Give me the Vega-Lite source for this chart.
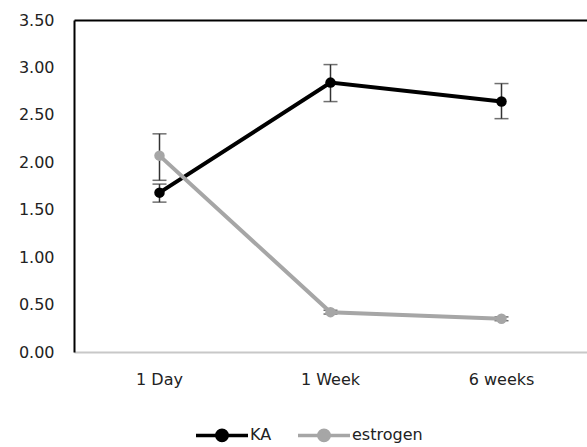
{
  "$schema": "https://vega.github.io/schema/vega-lite/v6.json",
  "width": 513,
  "height": 332,
  "autosize": {"type": "none"},
  "padding": {"left": 74, "top": 20, "right": 0, "bottom": 95},
  "background": "white",
  "config": {"font": "DejaVu Sans", "view": {"stroke": null}},
  "data": {
    "values": [
      {"group": "KA", "time": "1 Day", "mean": 1.68, "lo": 1.58, "hi": 1.77},
      {"group": "KA", "time": "1 Week", "mean": 2.84, "lo": 2.64, "hi": 3.03},
      {"group": "KA", "time": "6 weeks", "mean": 2.64, "lo": 2.46, "hi": 2.83},
      {"group": "estrogen", "time": "1 Day", "mean": 2.07, "lo": 1.81, "hi": 2.3},
      {"group": "estrogen", "time": "1 Week", "mean": 0.42, "lo": 0.4, "hi": 0.44},
      {"group": "estrogen", "time": "6 weeks", "mean": 0.35, "lo": 0.33, "hi": 0.37}
    ]
  },
  "resolve": {"axis": {"x": "independent", "y": "independent"}, "legend": {"color": "independent"}},
  "layer": [
    {
      "mark": {"type": "rule", "color": "#333333", "strokeWidth": 1.5},
      "encoding": {
        "x": {"field": "time", "type": "ordinal", "sort": ["1 Day", "1 Week", "6 weeks"],
              "axis": {"orient": "top", "labels": false, "ticks": false, "title": null, "domainColor": "#000000", "domainWidth": 2}},
        "y": {"field": "lo", "type": "quantitative", "axis": null},
        "y2": {"field": "hi"}
      }
    },
    {
      "mark": {"type": "tick", "color": "#333333", "thickness": 1.5, "size": 14},
      "encoding": {
        "x": {"field": "time", "type": "ordinal", "sort": ["1 Day", "1 Week", "6 weeks"], "axis": null},
        "y": {"field": "lo", "type": "quantitative", "axis": null}
      }
    },
    {
      "mark": {"type": "tick", "color": "#333333", "thickness": 1.5, "size": 14},
      "encoding": {
        "x": {"field": "time", "type": "ordinal", "sort": ["1 Day", "1 Week", "6 weeks"], "axis": null},
        "y": {"field": "hi", "type": "quantitative", "axis": null}
      }
    },
    {
      "mark": {"type": "line", "strokeWidth": 4},
      "encoding": {
        "x": {"field": "time", "type": "ordinal", "sort": ["1 Day", "1 Week", "6 weeks"],
              "axis": {"title": null, "ticks": false, "domainColor": "#c8c8c8", "domainWidth": 2, "labelAngle": 0, "labelFontSize": 16, "labelColor": "#222222", "labelPadding": 19}},
        "y": {"field": "mean", "type": "quantitative",
              "scale": {"domain": [0, 3.5], "nice": false, "zero": true},
              "axis": {"title": null, "values": [0, 0.5, 1, 1.5, 2, 2.5, 3, 3.5], "format": ".2f", "ticks": false, "grid": false, "domainColor": "#000000", "domainWidth": 2, "labelFontSize": 16, "labelColor": "#222222", "labelPadding": 20}},
        "color": {"field": "group", "type": "nominal", "scale": {"domain": ["KA", "estrogen"], "range": ["#000000", "#a6a6a6"]},
                  "legend": {
                    "orient": "none", "legendX": 120, "legendY": 387, "direction": "horizontal", "title": null,
                    "symbolType": "M-1,0L1,0M-0.2,0A0.2,0.2,0,1,1,0.2,0A0.2,0.2,0,1,1,-0.2,0Z",
                    "symbolSize": 2704, "symbolStrokeWidth": 3.5, "labelFontSize": 16, "labelColor": "#222222",
                    "labelOffset": 0, "columnPadding": 19, "padding": 0,
                    "encode": {"symbols": {"update": {"fill": {"scale": "color", "field": "value"}, "stroke": {"scale": "color", "field": "value"}, "strokeWidth": {"value": 3.5}, "opacity": {"value": 1}, "fillOpacity": {"value": 1}, "strokeOpacity": {"value": 1}}}}
                  }},
        "order": {"field": "group", "sort": "descending"}
      }
    },
    {
      "mark": {"type": "point", "filled": true, "size": 110, "opacity": 1},
      "encoding": {
        "x": {"field": "time", "type": "ordinal", "sort": ["1 Day", "1 Week", "6 weeks"], "axis": null},
        "y": {"field": "mean", "type": "quantitative", "axis": null},
        "color": {"field": "group", "type": "nominal", "legend": null}
      }
    }
  ]
}
